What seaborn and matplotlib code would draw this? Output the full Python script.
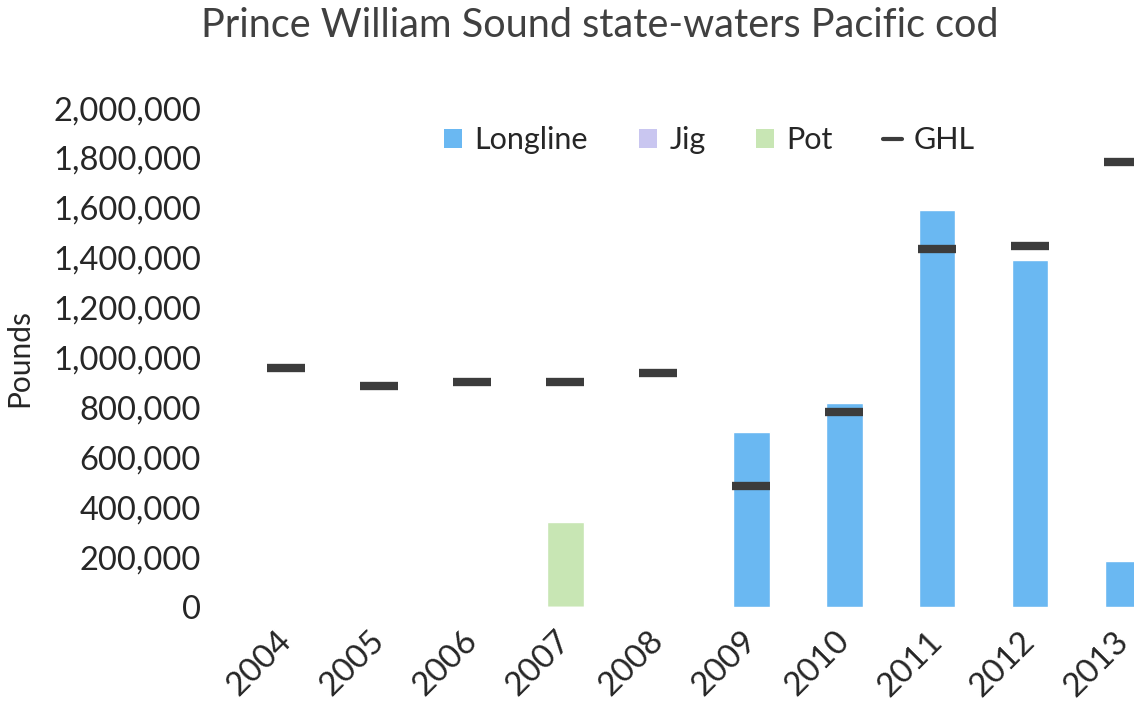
import numpy as np
import pandas as pd
import seaborn as sns
import matplotlib
matplotlib.use("Agg")
import matplotlib.pyplot as plt
from matplotlib.ticker import FuncFormatter
from matplotlib.lines import Line2D
from matplotlib.patches import Patch

# Harvest by gear type and guideline harvest level (pounds)
years = ["2004", "2005", "2006", "2007", "2008", "2009", "2010", "2011", "2012", "2013"]
longline = [0, 0, 0, 0, 0, 704000, 820000, 1592000, 1392000, 184000]
jig = [0, 0, 0, 0, 0, 0, 0, 0, 0, 0]
pot = [0, 0, 0, 341000, 6000, 0, 0, 0, 0, 0]
ghl = [960000, 888000, 904000, 904000, 940000, 484000, 781000, 1436000, 1448000, 1784000]

COL_LONG = "#6ab8f2"
COL_JIG = "#c9c6f0"
COL_POT = "#c8e6b4"
COL_GHL = "#3c3c3c"

sns.set_theme(style="white")
plt.rcParams["font.family"] = ["Lato", "DejaVu Sans"]

df = pd.DataFrame({"year": years, "Longline": longline, "Jig": jig, "Pot": pot, "GHL": ghl})
# stacked bars: draw cumulative totals back to front
df["lj"] = df["Longline"] + df["Jig"]
df["ljp"] = df["lj"] + df["Pot"]

fig = plt.figure(figsize=(11.34, 7.02), dpi=100)
ax = fig.add_axes([0.2116, 0.135, 0.820, 0.711])

bw = 0.39
sns.barplot(data=df, x="year", y="ljp", color=COL_POT, width=bw, saturation=1, ax=ax)
sns.barplot(data=df, x="year", y="lj", color=COL_JIG, width=bw, saturation=1, ax=ax)
sns.barplot(data=df, x="year", y="Longline", color=COL_LONG, width=bw, saturation=1, ax=ax)

# GHL as short horizontal dashes
ax.plot(np.arange(len(years)), df["GHL"], linestyle="none", marker="_",
        markersize=28, markeredgewidth=6, color=COL_GHL)

ax.set_ylim(0, 2000000)
ax.set_xlim(-0.5, len(years) - 0.5)
ax.set_yticks(np.arange(0, 2000001, 200000))
ax.yaxis.set_major_formatter(FuncFormatter(lambda v, p: f"{int(v):,}"))
ax.tick_params(axis="y", labelsize=23.5, labelcolor="#262626", pad=28, length=0)
ax.tick_params(axis="x", labelsize=24, labelcolor="#262626", pad=21, length=0)
plt.setp(ax.get_xticklabels(), rotation=45, ha="right", va="center", rotation_mode="anchor")
for s in ax.spines.values():
    s.set_visible(False)
ax.set_xlabel("")
ax.set_ylabel("Pounds", fontsize=21.5, color="#262626", labelpad=14)

fig.suptitle("Prince William Sound state-waters Pacific cod", fontsize=28.5,
             color="#404040", x=0.529, y=0.99)

handles = [
    Patch(facecolor=COL_LONG, edgecolor="none", label="Longline"),
    Patch(facecolor=COL_JIG, edgecolor="none", label="Jig"),
    Patch(facecolor=COL_POT, edgecolor="none", label="Pot"),
    Line2D([0], [0], color=COL_GHL, lw=3, label="GHL"),
]
leg = ax.legend(handles=handles, ncol=4, frameon=False, fontsize=22,
                loc="upper left", bbox_to_anchor=(0.19, 1.019),
                handlelength=0.6, handleheight=0.6, handletextpad=0.4, columnspacing=1.65)
for t in leg.get_texts():
    t.set_color("#262626")

fig.savefig("out.png", dpi=100)
